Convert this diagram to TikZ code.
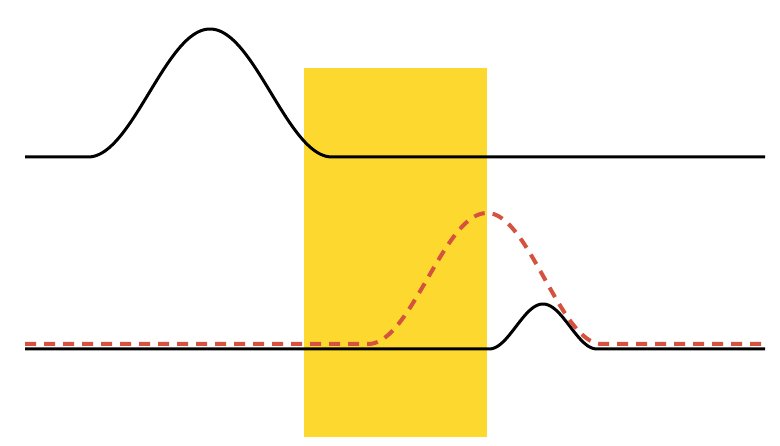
\documentclass[tikz,border=0pt]{standalone}
\definecolor{gateyellow}{HTML}{FDD92F}
\definecolor{dashred}{HTML}{D4523F}
\tikzset{
  signal/.style={black, line width=3pt, line join=round},
  echo/.style={dashred, line width=4pt, dash pattern=on 11pt off 8pt, line join=round},
}
\begin{document}
\begin{tikzpicture}[x=1pt, y=-1pt]
\useasboundingbox (0,0) rectangle (780,446);
\fill[white] (0,0) rectangle (780,446);
% gate window
\fill[gateyellow] (304,68) rectangle (487,437);
% top signal
\draw[signal] (25,157) -- (88,157)
  -- plot[domain=88:332, samples=120] (\x, {157 - 64*(1+cos((\x-210)/122*180))})
  -- (765,157);
% bottom solid signal
\draw[signal] (25,349) -- (489,349)
  -- plot[domain=489:597, samples=80] (\x, {349 - 22.5*(1+cos((\x-543)/54*180))})
  -- (765,349);
% bottom dashed signal
\draw[echo] (25,344) -- (368,344)
  -- plot[domain=368:487, samples=80] (\x, {344 - 65.5*(1+cos((\x-487)/119*180))})
  -- plot[domain=487:602, samples=80] (\x, {344 - 65.5*(1+cos((\x-487)/115*180))})
  -- (765,344);
\end{tikzpicture}
\end{document}
